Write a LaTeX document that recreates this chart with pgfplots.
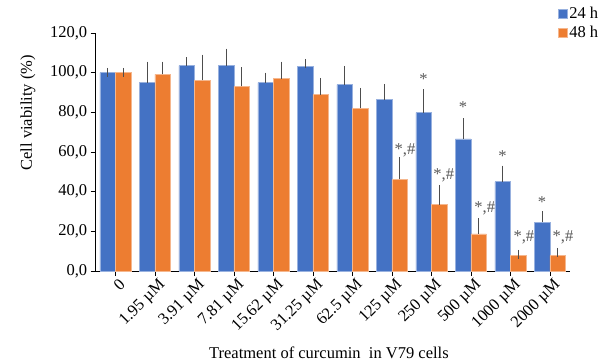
\documentclass[border=0pt]{standalone}
\usepackage{pgfplots}
\pgfplotsset{compat=1.18}
\usepackage{fontspec}
\setmainfont{Liberation Serif}

\definecolor{c24}{HTML}{4472C4}
\definecolor{c48}{HTML}{ED7D31}
\definecolor{errgray}{HTML}{4D4D4D}
\definecolor{anngray}{HTML}{595959}

% Cell viability (%) with standard deviation, V79 cells
\pgfplotstableread{
x  y     err
0  100.0 0.2
1  95.0  8.3
2  103.5 2.0
3  103.5 6.3
4  95.0  2.7
5  103.0 1.7
6  94.0  7.2
7  86.4  5.7
8  79.8  9.6
9  66.6  8.2
10 45.0  5.9
11 24.7  3.2
}\hourstwentyfour
\pgfplotstableread{
x  y     err
0  100.0 0.2
1  99.2  4.1
2  96.3  10.5
3  93.1  7.4
4  97.0  6.3
5  88.9  6.2
6  82.0  8.1
7  46.2  9.1
8  33.4  7.8
9  18.7  5.7
10 7.9   0.5
11 7.9   1.5
}\hoursfortyeight

\newcommand{\chartfont}{\fontsize{16.5}{18}\selectfont}

\begin{document}
\begin{tikzpicture}
\useasboundingbox (-95.7pt,-91pt) rectangle (514.3pt,271pt);
\begin{axis}[
  at={(0,0)}, anchor=south west,
  scale only axis, width=474pt, height=238pt,
  ybar=0pt, bar width=15.5pt,
  xmin=-0.5, xmax=11.5, ymin=0, ymax=120,
  axis x line*=bottom, axis y line*=left,
  axis line style={black, line width=0.6pt},
  tick align=outside, major tick length=5pt,
  tick style={black, line width=0.6pt},
  xtick={0,...,11},
  xticklabels={0, 1.95 µM, 3.91 µM, 7.81 µM, 15.62 µM, 31.25 µM, 62.5 µM, 125 µM, 250 µM, 500 µM, 1000 µM, 2000 µM},
  xticklabel style={rotate=45, anchor=north east, inner sep=1pt, xshift=2pt, yshift=-2pt},
  ytick={0,20,...,120},
  yticklabel style={/pgf/number format/.cd, fixed, fixed zerofill, precision=1, use comma, assume math mode=true},
  tick label style={font=\chartfont, text=black},
  ylabel={Cell viability (\%)},
  ylabel style={at={(axis description cs:-0.143,0.665)}, anchor=center, font=\chartfont},
  xlabel={Treatment of curcumin\ \ in V79 cells},
  xlabel style={at={(axis description cs:0.492,-0.345)}, anchor=center, font=\chartfont},
  legend style={at={(0.969,1.125)}, anchor=north west, draw=none, fill=none,
    font=\chartfont, row sep=3pt, nodes={inner sep=1.5pt}},
  legend cell align=left,
  legend image code/.code={\fill[#1] (0pt,-4.5pt) rectangle (9pt,4.5pt);},
  error bars/error bar style={errgray, line width=0.9pt},
  error bars/error mark options={errgray, line width=0.9pt, mark size=4.5pt},
  clip=false,
]
\addplot[fill=c24, draw=c24!55!white, line width=0.6pt,
  error bars/.cd, y dir=plus, y explicit]
  table[x=x, y=y, y error=err] {\hourstwentyfour};
\addplot[fill=c48, draw=c48!55!white, line width=0.6pt,
  error bars/.cd, y dir=plus, y explicit]
  table[x=x, y=y, y error=err] {\hoursfortyeight};
\legend{24 h, 48 h}

% significance markers
\begin{scope}[every node/.style={text=anngray, font=\chartfont, inner sep=0pt}]
\node at (axis cs:7.33,61.0) {*,\#};
\node at (axis cs:7.8,96.8) {*};
\node at (axis cs:8.31,48.0) {*,\#};
\node at (axis cs:8.8,82.7) {*};
\node at (axis cs:9.35,31.8) {*,\#};
\node at (axis cs:9.8,58.1) {*};
\node at (axis cs:10.34,17.1) {*,\#};
\node at (axis cs:10.8,34.8) {*};
\node at (axis cs:11.33,17.1) {*,\#};
\end{scope}
\end{axis}
\end{tikzpicture}
\end{document}
